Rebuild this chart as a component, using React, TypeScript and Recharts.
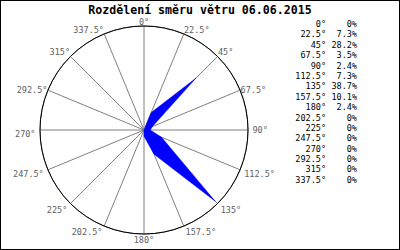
import { RadarChart, Radar, PolarGrid, PolarAngleAxis, PolarRadiusAxis } from "recharts";

const TITLE = "Rozdělení směru větru 06.06.2015";
const directions = ["0", "22.5", "45", "67.5", "90", "112.5", "135", "157.5", "180", "202.5", "225", "247.5", "270", "292.5", "315", "337.5"];
const shares = [0, 7.3, 28.2, 3.5, 2.4, 7.3, 38.7, 10.1, 2.4, 0, 0, 0, 0, 0, 0, 0];
const shareLabels = ["0%", "7.3%", "28.2%", "3.5%", "2.4%", "7.3%", "38.7%", "10.1%", "2.4%", "0%", "0%", "0%", "0%", "0%", "0%", "0%"];

const data = directions.map((d, i) => ({ dir: d + "°", value: shares[i] }));

const MONO = '"DejaVu Sans Mono", "Liberation Mono", monospace';
const CX = 144;
const CY = 130;
const R = 104;

// label placement similar to the original (gd-style) rendering
function DirTick(props: any) {
  const { index, payload } = props;
  const cx = typeof props.cx === "number" ? props.cx : CX;
  const cy = typeof props.cy === "number" ? props.cy : CY;
  const deg = parseFloat(directions[index] ?? "0");
  const rad = (deg * Math.PI) / 180;
  const s = Math.sin(rad);
  const c = Math.cos(rad);
  const px = cx + R * s;
  const py = cy - R * c;
  const anchor = Math.abs(s) < 0.01 ? "middle" : s > 0 ? "start" : "end";
  const dx = s * (c > 0.3 ? 0.5 : 4.5);
  const base = c > 0.7 ? -1 : c >= 0 ? 3 : c > -0.7 ? 7 : 9;
  return (
    <text x={px + dx} y={py + base} textAnchor={anchor} fill="#606060" fontSize={8.5} fontFamily={MONO}>
      {payload.value}
    </text>
  );
}

export default function App() {
  return (
    <div
      style={{
        position: "absolute",
        left: 0,
        top: 0,
        width: 400,
        height: 250,
        boxSizing: "border-box",
        border: "1px solid #000",
        background: "#fff",
        fontFamily: MONO,
        overflow: "hidden",
      }}
    >
      <div
        style={{
          position: "absolute",
          left: 0,
          top: 2,
          width: 398,
          textAlign: "center",
          fontSize: 11.6,
          fontWeight: "bold",
          lineHeight: "14px",
        }}
      >
        {TITLE}
      </div>
      <div style={{ position: "absolute", left: -1, top: -1 }}>
        <RadarChart width={290} height={250} cx={CX} cy={CY} outerRadius={R} data={data} margin={{ top: 0, right: 0, bottom: 0, left: 0 }}>
          <PolarGrid gridType="circle" polarRadius={[R]} stroke="#808080" />
          <PolarAngleAxis
            dataKey="dir"
            axisLineType="circle"
            axisLine={{ stroke: "#000" }}
            tickLine={false}
            tick={<DirTick />}
          />
          <PolarRadiusAxis domain={[0, 40]} tick={false} axisLine={false} />
          <Radar dataKey="value" fill="#0000ff" fillOpacity={1} stroke="#0000ff" strokeWidth={0.5} isAnimationActive={false} />
        </RadarChart>
      </div>
      <div style={{ position: "absolute", left: 280, top: 18, fontSize: 8.5, lineHeight: "10.4px" }}>
        {directions.map((d, i) => (
          <div key={d} style={{ display: "flex", height: 10.4 }}>
            <span style={{ width: 45, textAlign: "right" }}>{d}°</span>
            <span style={{ width: 31, textAlign: "right" }}>{shareLabels[i]}</span>
          </div>
        ))}
      </div>
    </div>
  );
}
